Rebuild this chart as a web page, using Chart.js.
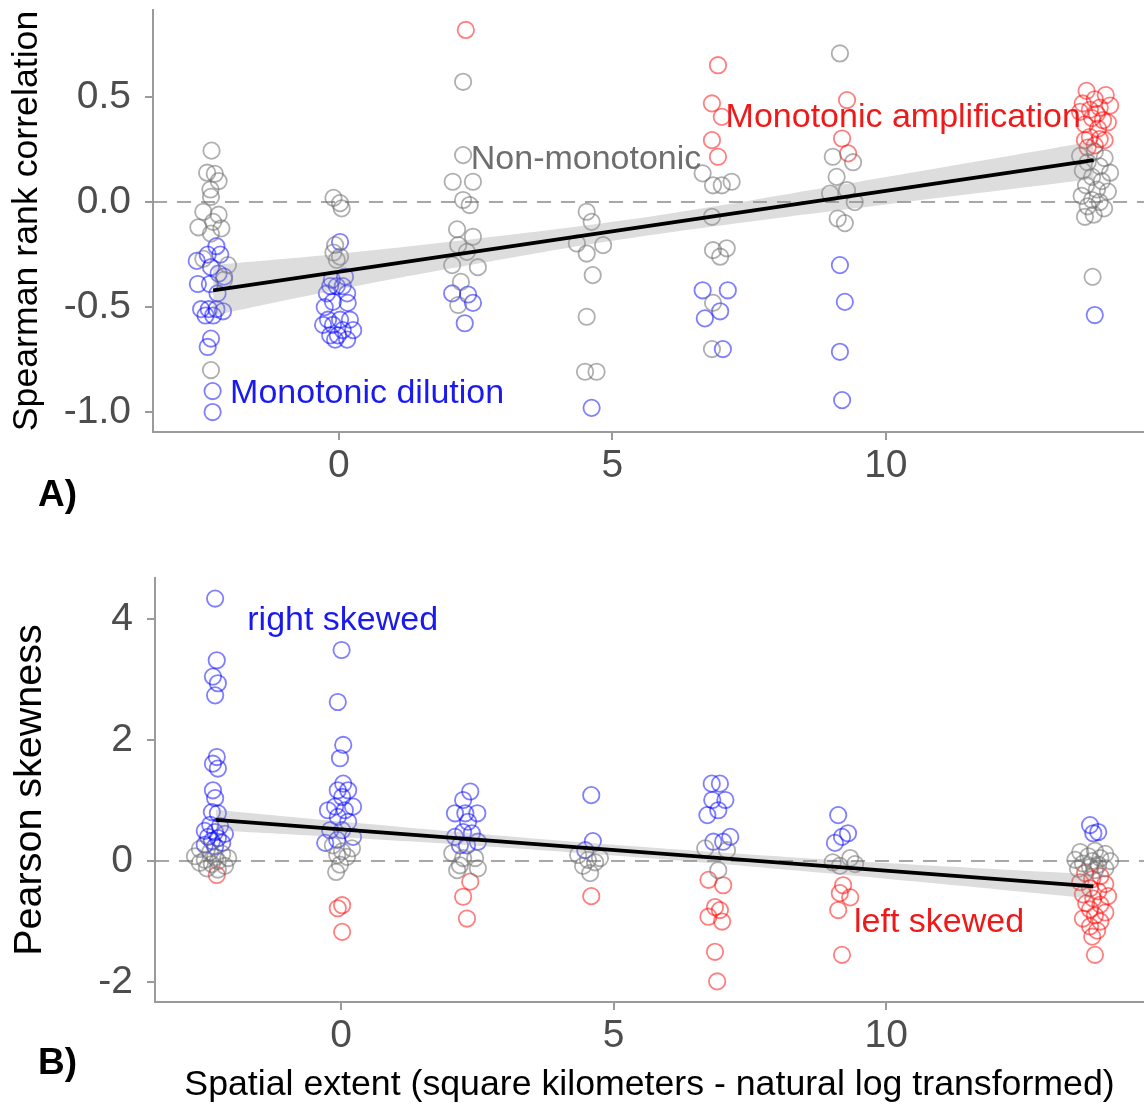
<!DOCTYPE html>
<html>
<head>
<meta charset="utf-8">
<script src="https://cdn.jsdelivr.net/npm/chart.js@4.4.1/dist/chart.umd.min.js"></script>
<style>
  html, body { margin:0; padding:0; background:#fff; }
  body { width:1144px; height:1111px; position:relative; overflow:hidden; font-family:"Liberation Sans", Arial, sans-serif; }
  #wa { position:absolute; left:0; top:0; width:1144px; height:520px; }
  #wb { position:absolute; left:0; top:560px; width:1144px; height:551px; }
  .plab { position:absolute; font-weight:bold; font-size:37px; color:#000; }
</style>
</head>
<body>
<div id="wa"><canvas id="ca" width="1144" height="520"></canvas></div>
<div id="wb"><canvas id="cb" width="1144" height="551"></canvas></div>
<div class="plab" style="left:38px; top:473px;">A)</div>
<div class="plab" style="left:38px; top:1041px;">B)</div>
<script>
// ---------------- Panel A: Spearman rank correlation ----------------
const aBlueX = [-2.24,-2.40,-2.17,-2.60,-2.34,-2.20,-2.10,-2.58,-2.36,-2.22,-2.52,-2.38,-2.24,-2.12,-2.44,-2.30,-2.34,-2.40,-2.31,-2.31,
  0.02,0.11,-0.13,-0.16,-0.04,0.07,-0.22,0.15,-0.11,0.16,-0.26,-0.20,0.02,0.20,-0.29,-0.11,0.07,0.26,-0.16,-0.02,-0.07,0.15,
  2.07,2.36,2.45,2.30, 4.62, 6.65,7.11,6.97,6.69,7.02, 9.16,9.25,9.16,9.20, 13.82];
const aBlueY = [-0.21,-0.25,-0.25,-0.28,-0.31,-0.34,-0.355,-0.39,-0.39,-0.435,-0.51,-0.51,-0.51,-0.52,-0.54,-0.54,-0.65,-0.69,-0.90,-1.00,
  -0.19,-0.355,-0.37,-0.40,-0.40,-0.40,-0.435,-0.435,-0.475,-0.48,-0.50,-0.56,-0.56,-0.56,-0.585,-0.585,-0.61,-0.61,-0.635,-0.635,-0.655,-0.655,
  -0.435,-0.44,-0.48,-0.577, -0.98, -0.42,-0.42,-0.52,-0.554,-0.70, -0.30,-0.475,-0.713,-0.943, -0.538];
const aGrayX = [-2.33,-2.41,-2.27,-2.20,-2.35,-2.34,-2.48,-2.20,-2.30,-2.57,-2.15,-2.03,-2.34,-2.48,-2.10,-2.34,
  -0.10,0.02,0.05,-0.07,-0.10,0.02,-0.04,
  2.27,2.27,2.08,2.45,2.27,2.39,2.16,2.45,2.18,2.34,2.07,2.54,2.23,2.18,
  4.53,4.62,4.35,4.83,4.53,4.64,4.53,4.50,4.71,
  6.65,7.18,6.84,7.00,6.82,6.84,7.09,6.97,6.84,6.82,
  9.16,9.03,9.40,9.10,8.98,9.29,9.43,9.12,9.25,
  13.82,13.55,14.00,13.69,13.91,13.60,14.10,13.77,13.95,13.66,13.86,14.06,13.58,13.77,13.91,13.69,13.99,13.80,13.64,13.78];
const aGrayY = [0.245,0.14,0.135,0.10,0.06,0.025,-0.046,-0.06,-0.094,-0.12,-0.125,-0.30,-0.15,-0.27,-0.37,-0.80,
  0.02,-0.005,-0.03,-0.205,-0.24,-0.26,-0.275,
  0.573,0.224,0.097,0.097,0.01,-0.014,-0.13,-0.165,-0.205,-0.237,-0.30,-0.31,-0.38,-0.49,
  -0.046,-0.094,-0.197,-0.205,-0.245,-0.348,-0.546,-0.808,-0.808,
  0.137,0.097,0.08,0.08,-0.07,-0.229,-0.22,-0.26,-0.48,-0.70,
  0.708,0.216,0.19,0.12,0.041,0.057,0.0,-0.078,-0.10,
  0.24,0.22,0.21,0.19,0.17,0.15,0.14,0.12,0.10,0.08,0.06,0.05,0.03,0.01,0.0,-0.02,-0.03,-0.06,-0.07,-0.356];
const aRedX = [2.32, 6.93,6.82,7.00,6.82,6.93, 9.29,9.20,9.31,
  13.67,14.02,13.60,13.82,13.91,13.73,13.55,14.10,13.77,13.97,13.64,13.88,14.06,13.73,13.91,13.64,13.82,14.00,13.69,13.86];
const aRedY = [0.82, 0.652,0.47,0.406,0.295,0.216, 0.486,0.303,0.232,
  0.53,0.51,0.47,0.49,0.45,0.44,0.43,0.46,0.40,0.39,0.37,0.35,0.38,0.31,0.30,0.295,0.27,0.295,0.26,0.42];
const aFitX = [-2.3, 13.8];
const aFitY = [-0.42, 0.20];
const aBandX  = [-2.3, 0, 2.5, 5, 7.5, 10, 13.8];
const aBandLo = [-0.54, -0.416, -0.295, -0.184, -0.093, -0.011, 0.11];
const aBandHi = [-0.30, -0.246, -0.175, -0.094, 0.007, 0.119, 0.29];
const aYTicks = [-1.0, -0.5, 0.0, 0.5];

// ---------------- Panel B: Pearson skewness ----------------
const bBlueX = [-2.31,-2.28,-2.35,-2.26,-2.31,-2.28,-2.35,-2.26,-2.35,-2.31,-2.37,-2.26,-2.40,-2.22,-2.50,-2.31,-2.13,-2.44,-2.26,-2.37,-2.18,-2.50,-2.31,
  0.01,-0.06,0.04,-0.02,0.04,-0.06,0.13,0.02,-0.11,0.22,-0.24,0.07,-0.06,0.13,-0.20,0.02,0.22,-0.07,-0.29,
  2.37,2.24,2.09,2.28,2.50,2.33,2.24,2.40,2.09,2.51,2.18,2.31,
  4.59,4.62,4.48,
  6.80,6.95,6.81,7.05,6.92,6.72,7.14,6.83,7.01,
  9.12,9.30,9.19,9.06,
  13.74,13.80,13.89];
const bBlueY = [4.34,3.32,3.05,2.94,2.74,1.72,1.61,1.53,1.17,1.04,0.81,0.79,0.60,0.58,0.50,0.48,0.45,0.40,0.38,0.33,0.30,0.27,0.24,
  3.49,2.63,1.92,1.70,1.28,1.17,1.17,1.06,0.90,0.90,0.84,0.84,0.73,0.65,0.51,0.51,0.40,0.35,0.30,
  1.15,1.01,0.79,0.79,0.79,0.65,0.48,0.46,0.40,0.32,0.26,0.26,
  1.09,0.33,0.18,
  1.28,1.28,1.01,1.01,0.84,0.76,0.40,0.32,0.32,
  0.76,0.46,0.40,0.30,
  0.595,0.46,0.48];
const bGrayX = [-2.59,-2.40,-2.18,-2.68,-2.31,-2.07,-2.50,-2.26,-2.59,-2.37,-2.13,-2.46,-2.26,
  -0.15,0.20,0.02,-0.07,0.11,-0.02,-0.09,
  2.04,2.24,2.46,2.18,2.51,2.13,
  4.35,4.75,4.53,4.66,4.44,4.57,
  6.68,7.08,6.92,
  9.34,9.43,9.15,9.02,
  13.56,13.83,14.02,13.71,13.93,13.47,13.78,14.11,13.61,13.89,13.74,14.02,13.52,13.83];
const bGrayY = [0.20,0.15,0.12,0.08,0.06,0.05,0.02,0.0,-0.03,-0.05,-0.08,-0.12,-0.14,
  0.26,0.21,0.16,0.10,0.07,-0.06,-0.18,
  0.13,0.05,0.05,-0.07,-0.12,-0.15,
  0.10,0.05,0.02,-0.02,-0.08,-0.20,
  0.21,0.18,-0.15,
  0.05,-0.05,-0.08,-0.02,
  0.15,0.17,0.12,0.08,0.05,0.02,0.0,0.0,-0.04,-0.06,-0.10,-0.12,-0.13,-0.15];
const bRedX = [-2.28,
  0.02,-0.06,0.02,
  2.37,2.24,2.31,
  4.59,
  6.74,7.01,6.86,6.95,6.74,6.99,6.86,6.90,
  9.21,9.15,9.34,9.12,9.19,
  13.65,13.93,13.78,13.56,14.02,13.74,13.89,13.61,14.07,13.80,13.67,13.93,13.74,14.02,13.83,13.61,13.93,13.74,13.87,13.78,13.83];
const bRedY = [-0.23,
  -0.73,-0.78,-1.17,
  -0.34,-0.59,-0.95,
  -0.58,
  -0.31,-0.40,-0.76,-0.81,-0.92,-1.00,-1.50,-1.99,
  -0.40,-0.53,-0.60,-0.81,-1.55,
  -0.20,-0.25,-0.30,-0.35,-0.38,-0.45,-0.50,-0.55,-0.58,-0.62,-0.70,-0.72,-0.80,-0.85,-0.90,-0.95,-1.00,-1.08,-1.15,-1.25,-1.55];
const bFitX = [-2.3, 13.8];
const bFitY = [0.68, -0.42];
const bBandX  = [-2.3, 0, 2.5, 5, 7.5, 10, 13.8];
const bBandLo = [0.51, 0.393, 0.252, 0.091, -0.09, -0.291, -0.62];
const bBandHi = [0.85, 0.653, 0.452, 0.271, 0.11, -0.031, -0.22];
const bYTicks = [-2, 0, 2, 4];

const xTicks = [0, 5, 10];

// ---------------- styling / helpers ----------------
const FONT = '"Liberation Sans", Arial, sans-serif';
const TICK_COLOR = '#4d4d4d';
const AXIS_COLOR = '#9a9a9a';
const C_BLUE = 'rgba(0,0,255,0.5)';
const C_GRAY = 'rgba(110,110,110,0.55)';
const C_RED  = 'rgba(255,0,0,0.5)';

function pts(xs, ys) { return xs.map((x, i) => ({ x: x, y: ys[i] })); }

function pointSet(xs, ys, color) {
  return { type: 'scatter', data: pts(xs, ys), borderColor: color, backgroundColor: 'rgba(0,0,0,0)',
    pointRadius: 8.2, pointBorderWidth: 1.8, pointHoverRadius: 8.2, order: 3 };
}
function datasets(blueX, blueY, grayX, grayY, redX, redY, bandX, bandLo, bandHi, fitX, fitY) {
  return [
    { type: 'line', data: pts(bandX, bandLo), borderWidth: 0, pointRadius: 0, fill: false, tension: 0.4, order: 2 },
    { type: 'line', data: pts(bandX, bandHi), borderWidth: 0, pointRadius: 0, fill: '-1', tension: 0.4,
      backgroundColor: 'rgba(150,150,150,0.32)', order: 2 },
    { type: 'line', data: pts(fitX, fitY), borderColor: '#000', borderWidth: 3.8, pointRadius: 0, fill: false, order: 1 },
    pointSet(grayX, grayY, C_GRAY),
    pointSet(blueX, blueY, C_BLUE),
    pointSet(redX, redY, C_RED)
  ];
}

const zeroLine = {
  id: 'zeroLine',
  beforeDatasetsDraw(chart) {
    const { ctx, chartArea, scales } = chart;
    const y = scales.y.getPixelForValue(0);
    ctx.save();
    ctx.strokeStyle = '#8a8a8a';
    ctx.lineWidth = 1.5;
    ctx.setLineDash([14, 10]);
    ctx.beginPath();
    ctx.moveTo(chartArea.left, y);
    ctx.lineTo(chartArea.right, y);
    ctx.stroke();
    ctx.restore();
  }
};

const labelsPlugin = {
  id: 'notes',
  afterDatasetsDraw(chart, args, opts) {
    const { ctx, scales } = chart;
    ctx.save();
    ctx.font = '34px ' + FONT;
    ctx.textAlign = 'left';
    ctx.textBaseline = 'middle';
    (opts.items || []).forEach(it => {
      ctx.fillStyle = it.color;
      ctx.fillText(it.text, scales.x.getPixelForValue(it.x), scales.y.getPixelForValue(it.y));
    });
    ctx.restore();
  }
};

function noPad(s) { s.paddingTop = 0; s.paddingBottom = 0; s.paddingLeft = 0; s.paddingRight = 0; }

function makeChart(id, ds, cfg) {
  return new Chart(document.getElementById(id), {
    type: 'scatter',
    data: { datasets: ds },
    plugins: [zeroLine, labelsPlugin],
    options: {
      responsive: false,
      animation: false,
      devicePixelRatio: 1,
      layout: { autoPadding: false, padding: { top: cfg.padTop, left: 0, right: 0, bottom: 0 } },
      plugins: { legend: { display: false }, tooltip: { enabled: false }, notes: { items: cfg.notes } },
      scales: {
        x: {
          type: 'linear', min: cfg.xmin, max: cfg.xmax,
          afterBuildTicks: s => { s.ticks = xTicks.map(v => ({ value: v })); },
          afterFit: s => { s.height = cfg.xHeight; noPad(s); },
          ticks: { color: TICK_COLOR, font: { family: FONT, size: 39 }, padding: 3, maxRotation: 0,
                   callback: v => String(v) },
          grid: { drawOnChartArea: false, drawTicks: true, tickLength: 8, color: AXIS_COLOR, lineWidth: 2 },
          border: { display: true, color: AXIS_COLOR, width: 2 },
          title: cfg.xTitle ? { display: true, text: cfg.xTitle, color: '#000', font: { family: FONT, size: 35.7 },
                   padding: { top: 0, bottom: 4 } } : { display: false }
        },
        y: {
          type: 'linear', min: cfg.ymin, max: cfg.ymax,
          afterBuildTicks: s => { s.ticks = cfg.yTicks.map(v => ({ value: v })); },
          afterFit: s => { s.width = cfg.yWidth; noPad(s); },
          ticks: { color: TICK_COLOR, font: { family: FONT, size: 39 }, padding: 14,
                   callback: v => cfg.yFmt(v) },
          grid: { drawOnChartArea: false, drawTicks: true, tickLength: 8, color: AXIS_COLOR, lineWidth: 2 },
          border: { display: true, color: AXIS_COLOR, width: 2 },
          title: { display: true, text: cfg.yTitle, color: '#000', font: { family: FONT, size: cfg.yTitleSize },
                   padding: { top: 6, bottom: 0 } }
        }
      }
    }
  });
}

makeChart('ca', datasets(aBlueX, aBlueY, aGrayX, aGrayY, aRedX, aRedY, aBandX, aBandLo, aBandHi, aFitX, aFitY), {
  padTop: 10, xHeight: 88, yWidth: 153,
  xmin: -3.40, xmax: 14.72, ymin: -1.095, ymax: 0.915,
  yTicks: aYTicks, yFmt: v => v.toFixed(1), yTitle: 'Spearman rank correlation', yTitleSize: 35.7,
  notes: [
    { text: 'Monotonic dilution', x: -1.99, y: -0.91, color: '#1a1aee' },
    { text: 'Non-monotonic', x: 2.41, y: 0.20, color: '#6e6e6e' },
    { text: 'Monotonic amplification', x: 7.07, y: 0.40, color: '#ee1a1a' }
  ]
});

makeChart('cb', datasets(bBlueX, bBlueY, bGrayX, bGrayY, bRedX, bRedY, bBandX, bBandLo, bBandHi, bFitX, bFitY), {
  padTop: 18, xHeight: 109, yWidth: 155,
  xmin: -3.413, xmax: 14.73, ymin: -2.33, ymax: 4.68,
  yTicks: bYTicks, yFmt: v => String(v), yTitle: 'Pearson skewness', yTitleSize: 39.5,
  xTitle: 'Spatial extent (square kilometers - natural log transformed)',
  notes: [
    { text: 'right skewed', x: -1.72, y: 3.97, color: '#1a1aee' },
    { text: 'left skewed', x: 9.41, y: -1.02, color: '#ee1a1a' }
  ]
});
</script>
</body>
</html>
